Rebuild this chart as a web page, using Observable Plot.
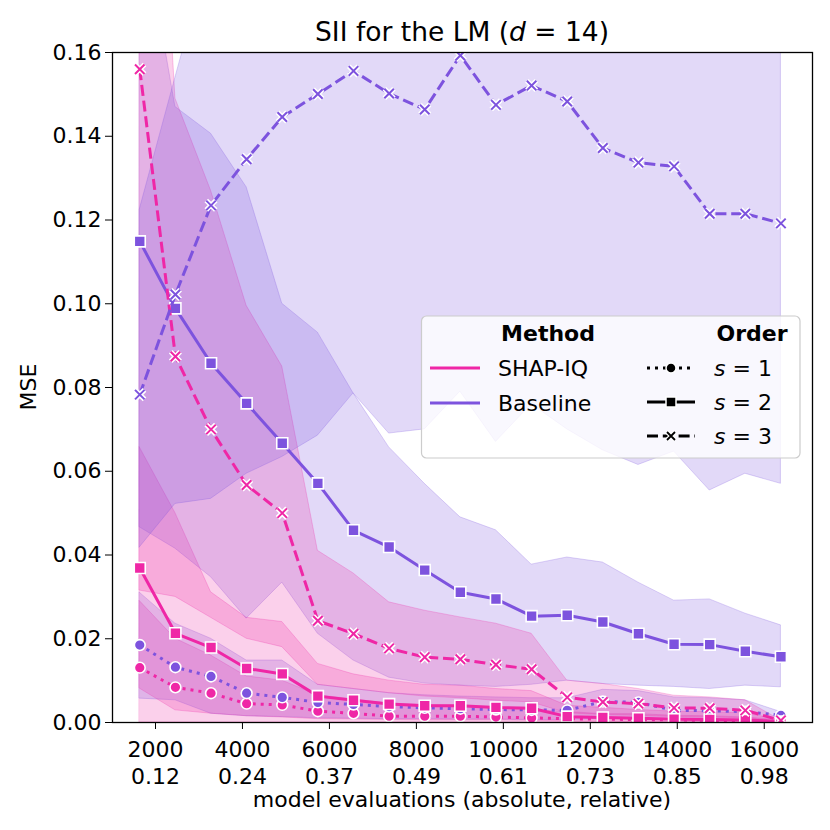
<!DOCTYPE html>
<html><head><meta charset="utf-8">
<script src="https://cdn.jsdelivr.net/npm/d3@7"></script>
<script src="https://cdn.jsdelivr.net/npm/@observablehq/plot@0.6"></script>
<style>
body{margin:0;background:#fff;}
#wrap{width:830px;height:830px;}
</style></head><body>
<div id="wrap"></div>
<script>
// ---------- data ----------
const budgets = [1638, 2458, 3277, 4096, 4915, 5734, 6554, 7373, 8192, 9011, 9830, 10650, 11469, 12288, 13107, 13926, 14746, 15565, 16384];
const xTicks = [2000, 4000, 6000, 8000, 10000, 12000, 14000, 16000];
const xTickRel = ["0.12", "0.24", "0.37", "0.49", "0.61", "0.73", "0.85", "0.98"];
const yTicks = [0, 0.02, 0.04, 0.06, 0.08, 0.10, 0.12, 0.14, 0.16];
const methods = ["SHAP-IQ", "Baseline"];
const methodColors = ["#ef27a6", "#7d53de"];
const orderLabels = ["1", "2", "3"];

const shapiqS1   = [0.0131, 0.0084, 0.0070, 0.0045, 0.0042, 0.0027, 0.0022, 0.0015, 0.0015, 0.0015, 0.0013, 0.0011, 0.0009, 0.0008, 0.0007, 0.0006, 0.0005, 0.0004, 0.0002];
const shapiqS1Lo = [0, 0, 0, 0, 0, 0, 0, 0, 0, 0, 0, 0, 0, 0, 0, 0, 0, 0, 0];
const shapiqS1Hi = [0.0290, 0.0200, 0.0160, 0.0110, 0.0100, 0.0065, 0.0055, 0.0045, 0.0042, 0.0040, 0.0035, 0.0030, 0.0025, 0.0020, 0.0020, 0.0016, 0.0015, 0.0012, 0.0005];

const baselineS1   = [0.0185, 0.0132, 0.0110, 0.0070, 0.0060, 0.0048, 0.0043, 0.0038, 0.0035, 0.0033, 0.0031, 0.0030, 0.0029, 0.0050, 0.0048, 0.0029, 0.0028, 0.0026, 0.0017];
const baselineS1Lo = [0.0057, 0.0053, 0.0021, 0.0015, 0.0013, 0.0010, 0.0009, 0.0008, 0.0008, 0.0007, 0.0007, 0.0006, 0.0006, 0.0008, 0.0008, 0.0006, 0.0006, 0.0005, 0.0003];
const baselineS1Hi = [0.0310, 0.0236, 0.0200, 0.0148, 0.0148, 0.0090, 0.0080, 0.0070, 0.0065, 0.0062, 0.0060, 0.0058, 0.0058, 0.0078, 0.0075, 0.0060, 0.0058, 0.0053, 0.0025];

const shapiqS2   = [0.0369, 0.0213, 0.0179, 0.0129, 0.0116, 0.0063, 0.0053, 0.0044, 0.0040, 0.0040, 0.0036, 0.0034, 0.0014, 0.0012, 0.0010, 0.0008, 0.0007, 0.0006, 0.0002];
const shapiqS2Lo = [0.0081, 0.0029, 0.0021, 0.0015, 0.0012, 0.0008, 0.0007, 0.0006, 0.0005, 0.0005, 0.0005, 0.0004, 0.0002, 0.0002, 0.0001, 0.0001, 0.0001, 0.0001, 0];
const shapiqS2Hi = [0.0657, 0.0500, 0.0311, 0.0250, 0.0240, 0.0140, 0.0115, 0.0100, 0.0090, 0.0088, 0.0080, 0.0075, 0.0040, 0.0035, 0.0030, 0.0026, 0.0025, 0.0022, 0.0006];

const baselineS2   = [0.1149, 0.0989, 0.0858, 0.0762, 0.0667, 0.0571, 0.0459, 0.0419, 0.0364, 0.0311, 0.0295, 0.0254, 0.0256, 0.0240, 0.0212, 0.0187, 0.0186, 0.0170, 0.0157];
const baselineS2Lo = [0.0466, 0.0415, 0.0347, 0.0248, 0.0334, 0.0212, 0.0148, 0.0107, 0.0093, 0.0088, 0.0085, 0.0090, 0.0100, 0.0092, 0.0088, 0.0085, 0.0080, 0.0088, 0.0084];
const baselineS2Hi = [0.1960, 0.1470, 0.1406, 0.1278, 0.1000, 0.0931, 0.0786, 0.0657, 0.0570, 0.0490, 0.0459, 0.0377, 0.0394, 0.0382, 0.0334, 0.0291, 0.0294, 0.0260, 0.0232];

const shapiqS3   = [0.1560, 0.0874, 0.0700, 0.0567, 0.0500, 0.0243, 0.0212, 0.0177, 0.0156, 0.0151, 0.0138, 0.0127, 0.0060, 0.0049, 0.0045, 0.0035, 0.0034, 0.0029, 0.0005];
const shapiqS3Lo = [0.0315, 0.0300, 0.0250, 0.0200, 0.0180, 0.0090, 0.0080, 0.0070, 0.0062, 0.0058, 0.0052, 0.0048, 0.0022, 0.0018, 0.0016, 0.0013, 0.0012, 0.0010, 0.0000];
const shapiqS3Hi = [0.3000, 0.1490, 0.1270, 0.0995, 0.0850, 0.0410, 0.0356, 0.0287, 0.0267, 0.0251, 0.0236, 0.0212, 0.0100, 0.0092, 0.0080, 0.0064, 0.0060, 0.0053, 0.0005];

const baselineS3   = [0.0783, 0.1022, 0.1235, 0.1345, 0.1446, 0.1501, 0.1556, 0.1502, 0.1464, 0.1593, 0.1475, 0.1521, 0.1483, 0.1372, 0.1337, 0.1328, 0.1215, 0.1215, 0.1192];
const baselineS3Lo = [0.0418, 0.0522, 0.0534, 0.0594, 0.0634, 0.0685, 0.0786, 0.0690, 0.0700, 0.0790, 0.0670, 0.0760, 0.0700, 0.0650, 0.0615, 0.0647, 0.0554, 0.0594, 0.0570];
const baselineS3Hi = [0.1225, 0.1540, 0.1850, 0.2100, 0.2300, 0.2400, 0.2500, 0.2400, 0.2400, 0.2600, 0.2400, 0.2500, 0.2400, 0.2200, 0.2100, 0.2100, 0.2000, 0.2000, 0.1900];

// ---------- build table ----------
const series = [
  {method: "SHAP-IQ", order: 1, mean: shapiqS1, lo: shapiqS1Lo, hi: shapiqS1Hi},
  {method: "Baseline", order: 1, mean: baselineS1, lo: baselineS1Lo, hi: baselineS1Hi},
  {method: "SHAP-IQ", order: 2, mean: shapiqS2, lo: shapiqS2Lo, hi: shapiqS2Hi},
  {method: "Baseline", order: 2, mean: baselineS2, lo: baselineS2Lo, hi: baselineS2Hi},
  {method: "SHAP-IQ", order: 3, mean: shapiqS3, lo: shapiqS3Lo, hi: shapiqS3Hi},
  {method: "Baseline", order: 3, mean: baselineS3, lo: baselineS3Lo, hi: baselineS3Hi}
];
const colorOf = m => methodColors[methods.indexOf(m)];
const LW = 3;
const dashOf = {1: "3,5", 2: null, 3: "11,4.8"};

const marks = [];
for (const s of series) {
  const rows = budgets.map((b, i) => ({x: b, y: s.mean[i], lo: s.lo[i], hi: s.hi[i]}));
  marks.push(Plot.areaY(rows, {x: "x", y1: "lo", y2: "hi", fill: colorOf(s.method), fillOpacity: 0.22,
    stroke: colorOf(s.method), strokeOpacity: 0.25, strokeWidth: 1, clip: true}));
}
for (const s of series) {
  const c = colorOf(s.method);
  const rows = budgets.map((b, i) => ({x: b, y: s.mean[i]}));
  const lineOpts = {x: "x", y: "y", stroke: c, strokeWidth: LW, strokeLinecap: "butt", strokeLinejoin: "round", clip: true};
  if (dashOf[s.order]) lineOpts.strokeDasharray = dashOf[s.order];
  marks.push(Plot.line(rows, lineOpts));
  if (s.order === 1) {
    marks.push(Plot.dot(rows, {x: "x", y: "y", symbol: "circle", r: 5.4, fill: c, stroke: "white", strokeWidth: 1.6, clip: true}));
  } else if (s.order === 2) {
    marks.push(Plot.dot(rows, {x: "x", y: "y", symbol: "square", r: 6.2, fill: c, stroke: "white", strokeWidth: 1.6, clip: true}));
  } else {
    marks.push(Plot.dot(rows, {x: "x", y: "y", symbol: "times", r: 4.4, stroke: "white", strokeWidth: 5, clip: true}));
    marks.push(Plot.dot(rows, {x: "x", y: "y", symbol: "times", r: 4.4, stroke: c, strokeWidth: 2, clip: true}));
  }
}
marks.push(Plot.frame({stroke: "black", strokeWidth: 1.3}));
marks.push(Plot.axisY({ticks: yTicks, tickFormat: d3.format(".2f"), tickSize: 7, tickPadding: 4, fontSize: 22, label: null, stroke: "black"}));
marks.push(Plot.axisX({ticks: xTicks, tickFormat: d => `${d}\n${xTickRel[xTicks.indexOf(d)]}`, tickSize: 7, tickPadding: 8,
  fontSize: 22, lineHeight: 1.23, label: null, stroke: "black"}));

const chart = Plot.plot({
  width: 830, height: 830,
  marginLeft: 112, marginRight: 18, marginTop: 52, marginBottom: 108,
  x: {domain: [1011, 17110]},
  y: {domain: [0, 0.16]},
  style: {fontFamily: "DejaVu Sans, sans-serif", fontSize: "22px", color: "black", background: "white", overflow: "visible"},
  marks
});
document.getElementById("wrap").appendChild(chart);

// ---------- titles, labels, legend ----------
const svg = d3.select(chart);
const font = "DejaVu Sans, sans-serif";
const title = svg.append("text").attr("x", 462).attr("y", 41).attr("text-anchor", "middle")
  .attr("font-family", font).attr("font-size", 26.5).attr("fill", "black");
title.append("tspan").text("SII for the LM (");
title.append("tspan").attr("font-style", "italic").text("d");
title.append("tspan").text(" = 14)");

svg.append("text").attr("x", 462).attr("y", 807).attr("text-anchor", "middle")
  .attr("font-family", font).attr("font-size", 22).attr("fill", "black")
  .text("model evaluations (absolute, relative)");
svg.append("text").attr("transform", "translate(36,387) rotate(-90)").attr("text-anchor", "middle")
  .attr("font-family", font).attr("font-size", 22).attr("fill", "black").text("MSE");

const lg = svg.append("g");
lg.append("rect").attr("x", 421.5).attr("y", 316).attr("width", 378.5).attr("height", 142).attr("rx", 5)
  .attr("fill", "white").attr("fill-opacity", 0.8).attr("stroke", "#cccccc").attr("stroke-width", 1.2);
lg.append("text").attr("x", 548).attr("y", 341).attr("text-anchor", "middle").attr("font-family", font)
  .attr("font-size", 22).attr("font-weight", "bold").text("Method");
lg.append("text").attr("x", 752).attr("y", 341).attr("text-anchor", "middle").attr("font-family", font)
  .attr("font-size", 22).attr("font-weight", "bold").text("Order");
methods.forEach((m, i) => {
  const y = 368 + i * 35;
  lg.append("line").attr("x1", 430).attr("x2", 480).attr("y1", y).attr("y2", y)
    .attr("stroke", methodColors[i]).attr("stroke-width", LW);
  lg.append("text").attr("x", 498).attr("y", y + 8).attr("text-anchor", "start").attr("font-family", font).attr("font-size", 22).text(m);
});
orderLabels.forEach((o, i) => {
  const y = 368 + i * 34;
  const ln = lg.append("line").attr("x1", 647).attr("x2", 695).attr("y1", y).attr("y2", y)
    .attr("stroke", "black").attr("stroke-width", LW);
  if (i === 0) ln.attr("stroke-dasharray", "3,5");
  if (i === 2) ln.attr("stroke-dasharray", "11,4.8");
  if (i === 0) lg.append("circle").attr("cx", 671).attr("cy", y).attr("r", 5).attr("fill", "black").attr("stroke", "white").attr("stroke-width", 1.5);
  if (i === 1) lg.append("rect").attr("x", 666).attr("y", y - 5).attr("width", 10).attr("height", 10).attr("fill", "black").attr("stroke", "white").attr("stroke-width", 1.5);
  if (i === 2) {
    const p = `M667,${y - 4}L675,${y + 4}M667,${y + 4}L675,${y - 4}`;
    lg.append("path").attr("d", p).attr("stroke", "white").attr("stroke-width", 4.5);
    lg.append("path").attr("d", p).attr("stroke", "black").attr("stroke-width", 1.8);
  }
  const t = lg.append("text").attr("x", 714).attr("y", y + 8).attr("text-anchor", "start").attr("font-family", font).attr("font-size", 22);
  t.append("tspan").attr("font-style", "italic").text("s");
  t.append("tspan").text(" = " + o);
});
</script>
</body></html>
